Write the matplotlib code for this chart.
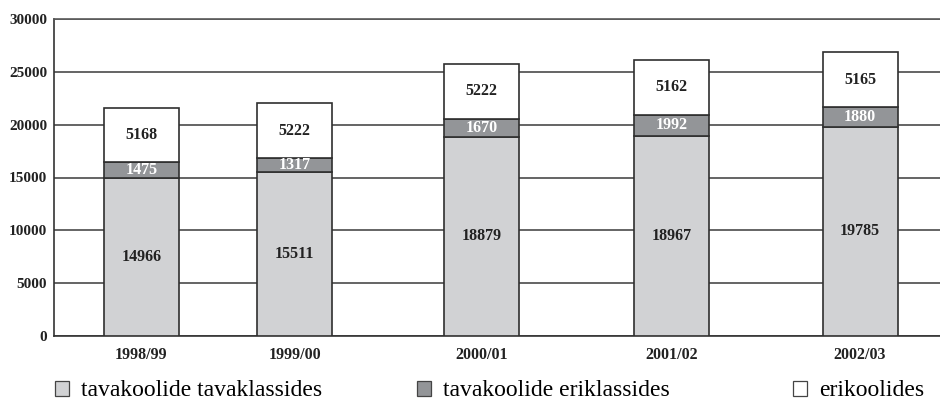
import matplotlib
matplotlib.use("Agg")
import matplotlib.pyplot as plt
from matplotlib.patches import Patch

# ---- data ----
years = ["1998/99", "1999/00", "2000/01", "2001/02", "2002/03"]
tava_tava = [14966, 15511, 18879, 18967, 19785]   # tavakoolide tavaklassides
tava_eri = [1475, 1317, 1670, 1992, 1880]          # tavakoolide eriklassides
eri_kool = [5168, 5222, 5222, 5162, 5165]          # erikoolides
series_names = ["tavakoolide tavaklassides", "tavakoolide eriklassides", "erikoolides"]
y_ticks = [0, 5000, 10000, 15000, 20000, 25000, 30000]

# ---- layout (category slot positions on the x axis) ----
slots = [0.875, 2.405, 4.275, 6.175, 8.06]
bar_w = 0.75
xlim = (0, 8.86)

colors = ["#d1d2d4", "#939598", "#ffffff"]
edge = "#2f2f2f"
serif = ["Liberation Serif", "DejaVu Serif"]
plt.rcParams["font.family"] = serif

fig = plt.figure(figsize=(9.4, 4.07), dpi=100)
ax = fig.add_axes([54 / 940, 1 - 336 / 407, 1 - 54 / 940, (336 - 19) / 407])

ax.bar(slots, tava_tava, width=bar_w, color=colors[0], edgecolor=edge, linewidth=1.2, zorder=3)
bottom2 = tava_tava
ax.bar(slots, tava_eri, width=bar_w, bottom=bottom2, color=colors[1], edgecolor=edge, linewidth=1.2, zorder=3)
bottom3 = [a + b for a, b in zip(tava_tava, tava_eri)]
ax.bar(slots, eri_kool, width=bar_w, bottom=bottom3, color=colors[2], edgecolor=edge, linewidth=1.2, zorder=3)

lab_kw = dict(ha="center", va="center", fontsize=11.5, fontweight="bold", zorder=4)
for x, v in zip(slots, tava_tava):
    ax.text(x, v / 2, str(v), color="#222222", **lab_kw)
for x, bt, v in zip(slots, bottom2, tava_eri):
    ax.text(x, bt + v / 2, str(v), color="white", **lab_kw)
for x, bt, v in zip(slots, bottom3, eri_kool):
    ax.text(x, bt + v / 2, str(v), color="#222222", **lab_kw)

ax.set_xlim(*xlim)
ax.set_ylim(0, 30000)
ax.set_yticks(y_ticks)
ax.set_yticklabels([str(t) for t in y_ticks], fontsize=11, fontweight="bold", color="#222222")
ax.set_xticks(slots)
ax.set_xticklabels(years, fontsize=11.5, fontweight="bold", color="#222222")
ax.tick_params(axis="both", length=0)
ax.tick_params(axis="y", pad=5)
ax.tick_params(axis="x", pad=8)

ax.yaxis.grid(True, color="#4a4a4a", linewidth=1.2, zorder=0)
ax.set_axisbelow(True)
ax.spines["right"].set_visible(False)
ax.spines["top"].set_color("#5a5a5a")
ax.spines["top"].set_linewidth(1.2)
for s in ["left", "bottom"]:
    ax.spines[s].set_color("#333333")
    ax.spines[s].set_linewidth(1.2)

# legend entries placed individually
leg_x = [55 / 940, 417 / 940, 793 / 940]
leg_y = 1 - 391 / 407
for name, col, lx in zip(series_names, colors, leg_x):
    h = Patch(facecolor=col, edgecolor="#444444", linewidth=0.9)
    fig.legend([h], [name], loc="center left", bbox_to_anchor=(lx, leg_y),
               frameon=False, borderpad=0, borderaxespad=0,
               handlelength=0.6, handleheight=0.6, handletextpad=0.5,
               prop={"family": serif, "size": 17})

fig.savefig("out.png", dpi=100)
